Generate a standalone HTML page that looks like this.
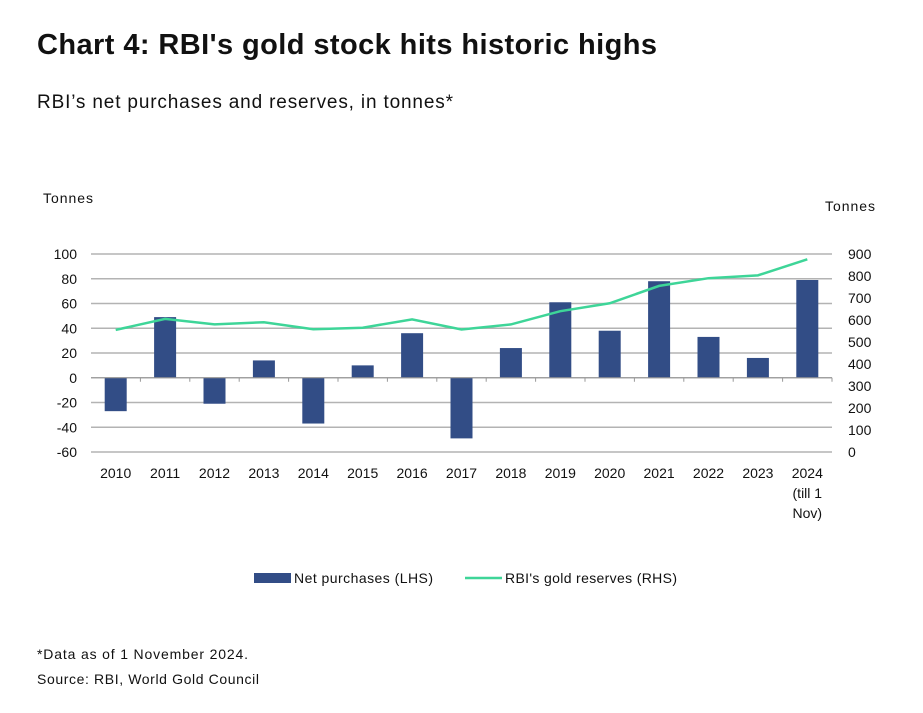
<!DOCTYPE html>
<html><head><meta charset="utf-8"><style>
body{margin:0;background:#fff;font-family:"Liberation Sans","DejaVu Sans",sans-serif;}
svg text{font-family:"Liberation Sans","DejaVu Sans",sans-serif;fill:#111;}
</style></head><body>
<svg id="c" width="923" height="708" xmlns="http://www.w3.org/2000/svg">
<text x="37" y="54" font-size="29" font-weight="bold" textLength="620">Chart 4: RBI's gold stock hits historic highs</text>
<text x="37" y="108" font-size="19" textLength="416">RBI’s net purchases and reserves, in tonnes*</text>
<text x="43" y="203" font-size="14" textLength="50">Tonnes</text>
<text x="825" y="211" font-size="14" textLength="50">Tonnes</text>
<g id="grid"></g><g id="bars"></g><g id="line"></g><g id="ax"></g>
<rect x="254" y="573" width="37" height="10" fill="#324d86"/>
<text x="294" y="583" font-size="14" textLength="139">Net purchases (LHS)</text>
<line x1="465" y1="578" x2="502" y2="578" stroke="#3ed598" stroke-width="2.5"/>
<text x="505" y="583" font-size="14" textLength="172">RBI's gold reserves (RHS)</text>
<text x="37" y="659" font-size="14" textLength="211">*Data as of 1 November 2024.</text>
<text x="37" y="684" font-size="14" textLength="222">Source: RBI, World Gold Council</text>
</svg>
<script>
const categories=["2010","2011","2012","2013","2014","2015","2016","2017","2018","2019","2020","2021","2022","2023","2024"];
const netPurchases=[-27,49,-21,14,-37,10,36,-49,24,61,38,78,33,16,79];
const reserves=[555,605,580,590,558,565,603,557,580,640,676,755,790,803,876];
const leftTicks=[100,80,60,40,20,0,-20,-40,-60];
const rightTicks=[900,800,700,600,500,400,300,200,100,0];
const NS="http://www.w3.org/2000/svg";
const X0=91,X1=832,YT=254,YB=452;
const bw=(X1-X0)/categories.length;
const yL=v=>YT+(100-v)/160*(YB-YT);
const yR=v=>YB-v/900*(YB-YT);
const xc=i=>X0+bw*(i+0.5);
function mk(t,a,p){const e=document.createElementNS(NS,t);for(const k in a)e.setAttribute(k,a[k]);document.getElementById(p).appendChild(e);return e;}
leftTicks.forEach(v=>{
 const g=mk('line',{x1:X0,x2:X1,y1:yL(v),y2:yL(v),stroke:'#b3b3b3','stroke-width':1.5},'grid');
 
 
 const t=mk('text',{x:77,y:yL(v)+5,'font-size':14,'text-anchor':'end'},'ax');t.textContent=v;
 
 
});
rightTicks.forEach(v=>{
 const t=mk('text',{x:848,y:yR(v)+5,'font-size':14},'ax');t.textContent=v;
 
 
});
const z=mk('line',{x1:X0,x2:X1,y1:yL(0),y2:yL(0),stroke:'#999','stroke-width':1},'ax');


categories.forEach((c,i)=>{
 const tk=mk('line',{x1:X0+bw*(i+1),x2:X0+bw*(i+1),y1:yL(0),y2:yL(0)+4,stroke:'#999'},'ax');
 
 
 const v=netPurchases[i];
 const b=mk('rect',{x:xc(i)-11,y:Math.min(yL(v),yL(0)),width:22,height:Math.abs(yL(v)-yL(0)),fill:'#324d86'},'bars');
 
 
 const t=mk('text',{x:xc(i),y:478,'font-size':14,'text-anchor':'middle'},'ax');t.textContent=c;
 
 
});
["(till 1","Nov)"].forEach((s,k)=>{const t=mk('text',{x:xc(14),y:498+k*20,'font-size':14,'text-anchor':'middle'},'ax');t.textContent=s;
 
 });
const p=mk('polyline',{points:reserves.map((v,i)=>xc(i)+','+yR(v)).join(' '),fill:'none',stroke:'#3ed598','stroke-width':2.5},'line');


</script>
</body></html>
